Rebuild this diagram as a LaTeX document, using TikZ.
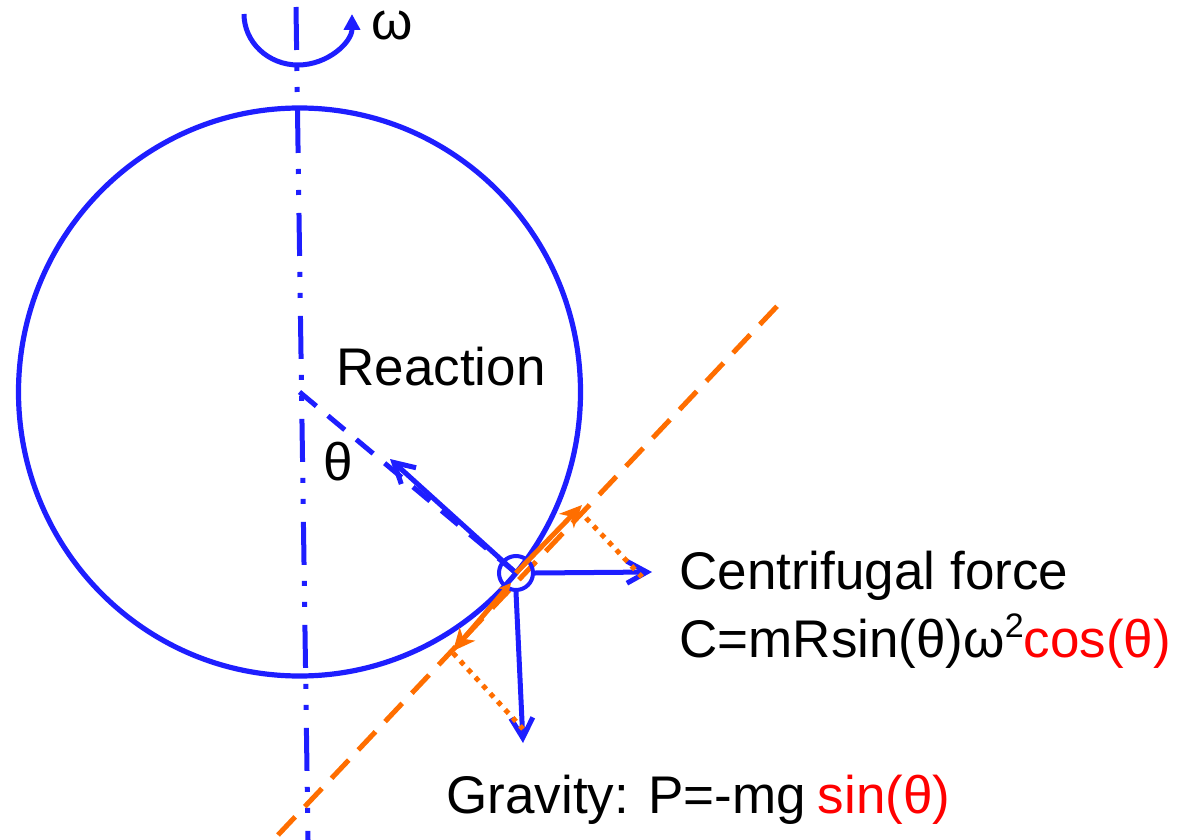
\documentclass[tikz,border=0pt]{standalone}
\usepackage{fontspec}
\setmainfont{Liberation Sans}
\usetikzlibrary{arrows.meta}
\definecolor{bblue}{RGB}{30,30,255}
\definecolor{oorange}{RGB}{255,110,0}
\definecolor{rred}{RGB}{255,0,0}
\begin{document}
\begin{tikzpicture}[x=0.5pt,y=-0.5pt,
  circ/.style={draw=bblue, line width=2.6pt},
  axisline/.style={draw=bblue, line width=2.5pt, dash pattern=on 21.5pt off 8pt on 2.5pt off 8pt on 2.5pt off 9pt},
  radial/.style={draw=bblue, line width=2.5pt, dash pattern=on 11pt off 7.5pt},
  barrow/.style={draw=bblue, line width=2.5pt, -{Straight Barb[length=10pt,width=11pt]}},
  omg/.style={draw=bblue, line width=2.5pt, -{Triangle[length=8pt,width=8pt]}},
  beadnode/.style={circle, draw=bblue, line width=2pt, minimum size=17pt, inner sep=0pt},
  odash/.style={draw=oorange, line width=2.5pt, dash pattern=on 12.5pt off 7pt},
  oarrow/.style={draw=oorange, line width=2.5pt, -{Stealth[length=11pt,width=10pt,inset=3pt]}},
  odot/.style={draw=oorange, line width=2.5pt, dash pattern=on 2.5pt off 3pt},
  lbl/.style={inner sep=0pt, anchor=base west, font=\fontsize{26.5pt}{30pt}\selectfont}
]
\useasboundingbox (0,0) rectangle (1189,840);
% main circle
\coordinate (C) at (299.5,392);
\draw[circ] (C) ellipse [x radius=281, y radius=284];
% rotation axis
\coordinate (AxT) at (296,7);
\coordinate (AxB) at (308,840);
\draw[axisline] (AxT) -- (AxB);
% omega arc
\coordinate (OmS) at (244,14);
\draw[omg] (OmS) arc[start angle=180, end angle=0, x radius=54, y radius=51];
% orange tangent line
\coordinate (TL) at (278,835);
\coordinate (TR) at (782,301);
\draw[odash] (TL) -- (TR);
% bead
\node[beadnode] (B) at (516,573) {};
% radial dashed line
\draw[radial] (C) -- (B.center);
% force tips
\coordinate (R) at (390,459);
\coordinate (Ct) at (652,572);
\coordinate (G) at (523,743);
\draw[barrow] (B.center) -- (R);
\draw[barrow] (B.east) -- (Ct);
\draw[barrow] (B.south) -- (G);
% orange components
\coordinate (U) at (582,505);
\coordinate (M) at (511,583);
\coordinate (L) at (453,651);
\draw[oarrow] (B.center) -- (U);
\draw[oarrow, {Stealth[length=6pt,width=6pt,inset=1.5pt]}-{Stealth[length=11pt,width=10pt,inset=3pt]}] (M) -- (L);
\coordinate (D1a) at (586,518);
\coordinate (D1b) at (642,577);
\coordinate (D2a) at (453,653);
\coordinate (D2b) at (523,729);
\draw[odot] (D1a) -- (D1b);
\draw[odot] (D2a) -- (D2b);
% labels
\node[lbl] (w) at (371,40) {ω};
\node[lbl] (re) at (336,385) {Reaction};
\node[lbl] (th) at (323,480) {θ};
\node[lbl] (cf) at (679,589) {Centrifugal force};
\node[lbl] (cfe) at (679,657) {C=mRsin(θ)ω\raisebox{0.36em}{\fontsize{17pt}{17pt}\selectfont 2}\textcolor{rred}{cos(θ)}};
\node[lbl] (gr) at (446,813) {Gravity: P=-mg\hspace{0.22em}\textcolor{rred}{sin(θ)}};
\end{tikzpicture}
\end{document}
